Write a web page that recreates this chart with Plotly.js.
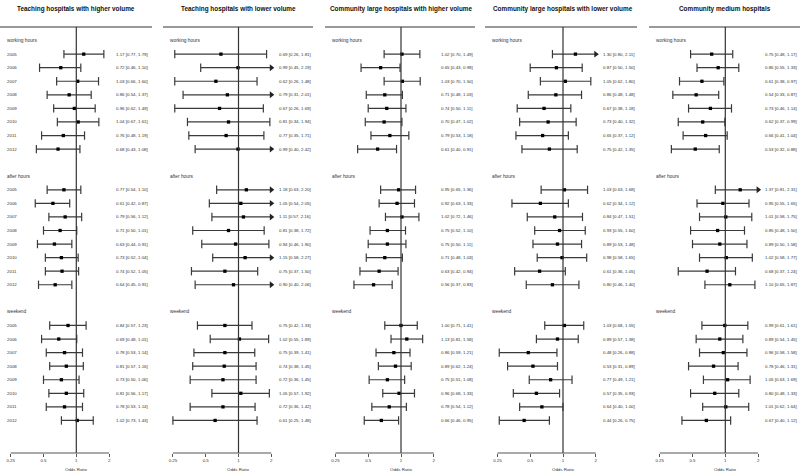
<!DOCTYPE html>
<html><head><meta charset="utf-8">
<script src="https://cdn.plot.ly/plotly-3.0.1.min.js"></script>
<style>html,body{margin:0;padding:0;background:#fff}#chart{width:800px;height:471px}</style>
</head><body><div id="chart"></div>
<script>
// ---------- data ----------
const years = ['2005','2006','2007','2008','2009','2010','2011','2012'];
const groups = ['working hours','after hours','weekend'];
const panelTitles = [
  'Teaching hospitals with higher volume',
  'Teaching hospitals with lower volume',
  'Community large hospitals with higher volume',
  'Community large hospitals with lower volume',
  'Community medium hospitals'
];
const tickVals = [0.25, 0.5, 1, 2];
const tickLabels = ['0.25', '0.5', '1', '2'];
const axisTitle = 'Odds Ratio';

// Each array: working hours 2005-2012, after hours 2005-2012, weekend 2005-2012
const teachHighOR = [1.17,0.72,1.03,0.86,0.96,1.04,0.76,0.68, 0.77,0.61,0.79,0.71,0.63,0.73,0.74,0.64, 0.84,0.69,0.78,0.81,0.73,0.81,0.78,1.02];
const teachHighLo = [0.77,0.46,0.66,0.54,0.62,0.67,0.48,0.43, 0.54,0.42,0.56,0.50,0.44,0.52,0.52,0.45, 0.57,0.48,0.53,0.57,0.50,0.56,0.53,0.73];
const teachHighHi = [1.79,1.10,1.60,1.37,1.49,1.61,1.19,1.08, 1.10,0.87,1.12,1.01,0.91,1.04,1.05,0.91, 1.23,1.01,1.14,1.16,1.06,1.17,1.14,1.43];

const teachLowOR = [0.69,0.99,0.62,0.79,0.67,0.81,0.77,0.99, 1.18,1.05,1.11,0.81,0.94,1.15,0.75,0.90, 0.75,1.02,0.75,0.74,0.72,1.05,0.72,0.61];
const teachLowLo = [0.26,0.45,0.26,0.31,0.26,0.34,0.35,0.40, 0.63,0.54,0.57,0.38,0.46,0.58,0.37,0.40, 0.42,0.55,0.39,0.38,0.36,0.57,0.36,0.25];
const teachLowHi = [1.81,2.19,1.48,2.01,1.69,1.94,1.71,2.42, 2.20,2.05,2.16,1.72,1.90,2.27,1.50,2.06, 1.33,1.89,1.41,1.45,1.45,1.92,1.42,1.48];

const commHighOR = [1.02,0.65,1.03,0.71,0.74,0.70,0.79,0.61, 0.95,0.92,1.02,0.75,0.75,0.71,0.63,0.56, 1.00,1.13,0.86,0.89,0.75,0.96,0.78,0.66];
const commHighLo = [0.70,0.43,0.70,0.48,0.50,0.47,0.53,0.40, 0.65,0.63,0.72,0.52,0.50,0.48,0.42,0.37, 0.71,0.81,0.59,0.62,0.51,0.68,0.54,0.46];
const commHighHi = [1.49,0.98,1.50,1.03,1.11,1.02,1.18,0.91, 1.36,1.33,1.46,1.10,1.11,1.03,0.94,0.83, 1.41,1.58,1.21,1.24,1.08,1.33,1.12,0.95];

const commLowOR = [1.30,0.87,1.05,0.86,0.67,0.73,0.65,0.75, 1.03,0.62,0.84,0.93,0.89,0.98,0.61,0.80, 1.03,0.89,0.48,0.53,0.77,0.57,0.64,0.44];
const commLowLo = [0.80,0.50,0.62,0.48,0.38,0.40,0.37,0.42, 0.63,0.34,0.47,0.55,0.53,0.58,0.36,0.46, 0.68,0.57,0.26,0.31,0.49,0.35,0.40,0.26];
const commLowHi = [2.11,1.50,1.80,1.48,1.18,1.32,1.12,1.35, 1.68,1.12,1.51,1.60,1.48,1.65,1.05,1.40, 1.55,1.38,0.88,0.89,1.21,0.93,1.00,0.75];

const commMedOR = [0.75,0.86,0.61,0.54,0.73,0.62,0.66,0.53, 1.37,0.95,1.01,0.85,0.89,1.02,0.68,1.10, 0.99,0.89,0.96,0.78,1.05,0.80,1.01,0.67];
const commMedLo = [0.48,0.55,0.38,0.33,0.46,0.37,0.41,0.32, 0.81,0.55,0.58,0.48,0.50,0.58,0.37,0.65, 0.61,0.54,0.58,0.46,0.63,0.48,0.62,0.40];
const commMedHi = [1.17,1.33,0.97,0.87,1.14,0.99,1.04,0.88, 2.31,1.65,1.75,1.50,1.58,1.77,1.24,1.87, 1.61,1.45,1.58,1.31,1.69,1.33,1.64,1.12];

const panelData = [
  [teachHighOR, teachHighLo, teachHighHi],
  [teachLowOR, teachLowLo, teachLowHi],
  [commHighOR, commHighLo, commHighHi],
  [commLowOR, commLowLo, commLowHi],
  [commMedOR, commMedLo, commMedHi]
];

// ---------- layout geometry ----------
const W = 800, H = 471, TOP = 27, BOT = 453, PH = BOT - TOP;
const K = 32.8;                 // pixels per doubling
const AXMAX = 2;                // clip limit of x axis
const panelGeom = [
  {L:0,   R:152, one:76.3},
  {L:163, R:313, one:238.5},
  {L:325, R:475, one:401},
  {L:485, R:637, one:563},
  {L:649, R:800, one:725.3}
];
const LOG2 = Math.log10(2);
const pyPaper = py => (BOT - py) / PH;
const rowOf = (g, i) => g * 10 + 1 + i;
const FONT = 'Liberation Sans, Arial, sans-serif';
const LINEC = '#3a3a3a';
const TXTC = '#333';
const SMALL = 4.4;

const traces = [];
const annotations = [];
const shapes = [];
const layout = {
  width: W, height: H, autosize: false,
  margin: {l: 0, r: 0, t: TOP, b: H - BOT, pad: 0},
  paper_bgcolor: '#fff', plot_bgcolor: 'rgba(0,0,0,0)',
  showlegend: false,
  font: {family: FONT, color: TXTC},
  yaxis: {range: [30.4, -1], visible: false, fixedrange: true, domain: [0, 1]}
};

panelGeom.forEach((g, p) => {
  const [orA, loA, hiA] = panelData[p];
  const xa = p === 0 ? 'x' : 'x' + (p + 1);
  const xkey = p === 0 ? 'xaxis' : 'xaxis' + (p + 1);
  layout[xkey] = {
    type: 'log',
    domain: [g.L / W, g.R / W],
    range: [LOG2 * (g.L - g.one) / K, LOG2 * (g.R - g.one) / K],
    anchor: 'y',
    showline: false, showgrid: false, zeroline: false,
    tickmode: 'array', tickvals: tickVals, ticktext: tickLabels,
    ticks: 'outside', ticklen: 3, tickwidth: 1, tickcolor: '#555',
    tickfont: {size: SMALL, color: TXTC, family: FONT},
    fixedrange: true
  };

  const lx = [], ly = [], cx = [], cy = [], ax = [], ay = [], px = [], pyv = [];
  orA.forEach((v, k) => {
    const gi = Math.floor(k / 8), yi = k % 8;
    const r = rowOf(gi, yi);
    const hiShown = Math.min(hiA[k], AXMAX);
    lx.push(loA[k], hiShown, null); ly.push(r, r, null);
    cx.push(loA[k]); cy.push(r);
    if (hiA[k] > AXMAX) { ax.push(AXMAX); ay.push(r); }
    else { cx.push(hiA[k]); cy.push(r); }
    px.push(v); pyv.push(r);
    annotations.push({
      xref: 'paper', yref: 'y', x: (g.one + 38) / W, y: r,
      xanchor: 'left', yanchor: 'middle', showarrow: false,
      text: `${v.toFixed(2)} [${loA[k].toFixed(2)}, ${hiA[k].toFixed(2)}]`,
      font: {size: SMALL, color: TXTC, family: FONT}
    });
    if (p === 0) {
      annotations.push({
        xref: 'paper', yref: 'y', x: 5 / W, y: r,
        xanchor: 'left', yanchor: 'middle', showarrow: false,
        text: years[yi], font: {size: SMALL, color: TXTC, family: FONT}
      });
    }
  });
  const common = {xaxis: xa, yaxis: 'y', hoverinfo: 'skip', showlegend: false, cliponaxis: false};
  traces.push(Object.assign({type: 'scatter', mode: 'lines', x: lx, y: ly,
    line: {color: LINEC, width: 1.2}, connectgaps: false}, common));
  traces.push(Object.assign({type: 'scatter', mode: 'markers', x: cx, y: cy,
    marker: {symbol: 'line-ns-open', size: 6, color: LINEC, line: {color: LINEC, width: 1.2}}}, common));
  if (ax.length) traces.push(Object.assign({type: 'scatter', mode: 'markers', x: ax, y: ay,
    marker: {symbol: 'triangle-right', size: 6, color: '#222', line: {width: 0}}}, common));
  traces.push(Object.assign({type: 'scatter', mode: 'markers', x: px, y: pyv,
    marker: {symbol: 'square', size: 3.3, color: '#000', line: {width: 0}}}, common));

  // group labels
  groups.forEach((name, gi) => {
    annotations.push({
      xref: 'paper', yref: 'y', x: (g.L + 5) / W, y: gi * 10,
      xanchor: 'left', yanchor: 'middle', showarrow: false,
      text: name, font: {size: SMALL + 0.4, color: TXTC, family: FONT}
    });
  });
  // panel title
  annotations.push({
    xref: 'paper', yref: 'paper', x: g.one / W, y: pyPaper(9),
    xanchor: 'center', yanchor: 'middle', showarrow: false,
    text: '<b>' + panelTitles[p] + '</b>', font: {size: 6.4, color: '#111', family: FONT}
  });
  // axis title
  annotations.push({
    xref: 'paper', yref: 'paper', x: g.one / W, y: pyPaper(469),
    xanchor: 'center', yanchor: 'middle', showarrow: false,
    text: axisTitle, font: {size: SMALL, color: TXTC, family: FONT}
  });
  // top rule
  shapes.push({type: 'line', xref: 'paper', yref: 'paper', x0: g.L / W, x1: g.R / W, y0: 1, y1: 1,
    line: {color: '#777', width: 1.6}});
  // reference line at OR = 1
  shapes.push({type: 'line', xref: 'paper', yref: 'paper', x0: g.one / W, x1: g.one / W, y0: 0, y1: 1,
    line: {color: '#333', width: 1.2}});
  // x axis line from 0.25 to 2
  shapes.push({type: 'line', xref: 'paper', yref: 'paper',
    x0: (g.one + K * Math.log2(tickVals[0])) / W, x1: (g.one + K * Math.log2(tickVals[tickVals.length - 1])) / W,
    y0: 0, y1: 0, line: {color: '#555', width: 1}});
});

layout.annotations = annotations;
layout.shapes = shapes;
Plotly.newPlot('chart', traces, layout, {displayModeBar: false, staticPlot: true});
</script>
</body></html>
